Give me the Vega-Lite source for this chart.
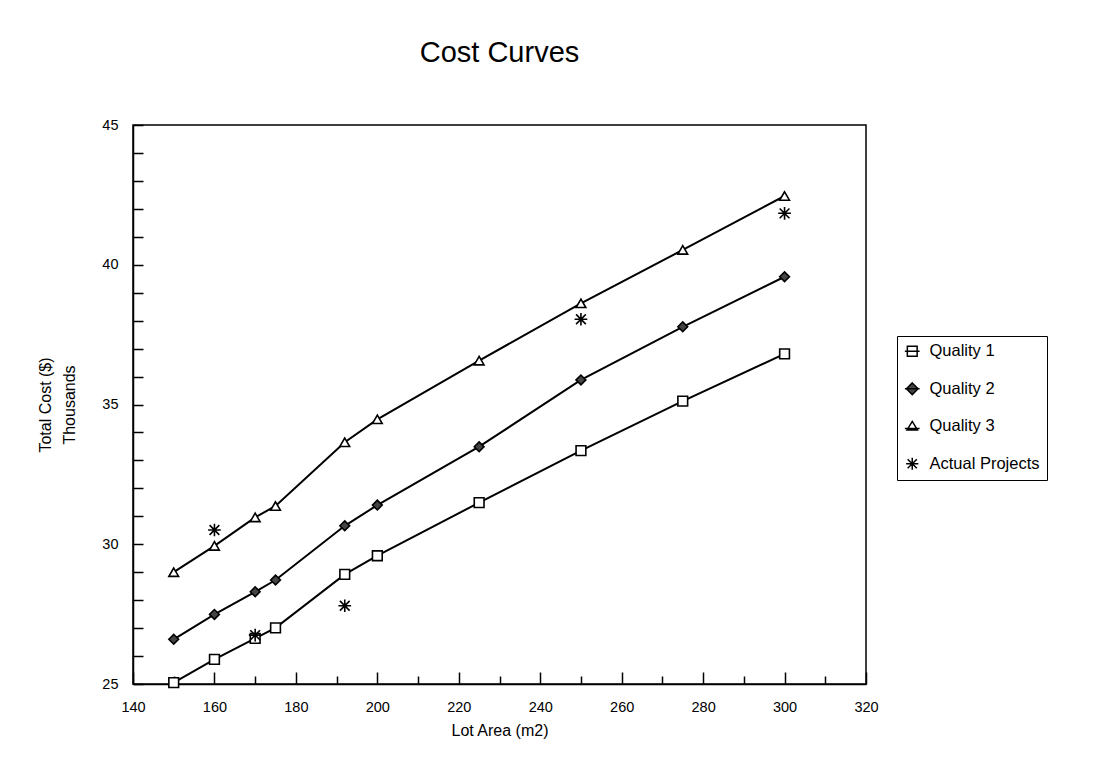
{
  "$schema": "https://vega.github.io/schema/vega-lite/v6.json",
  "autosize": {"type": "none"},
  "width": 733,
  "height": 559,
  "padding": {"left": 133, "top": 125, "right": 228, "bottom": 84},
  "background": "white",
  "config": {
    "font": "Liberation Sans",
    "view": {"stroke": "black", "strokeWidth": 1.5}
  },
  "title": {
    "text": "Cost Curves",
    "fontSize": 29,
    "fontWeight": "normal",
    "color": "black",
    "anchor": "middle",
    "baseline": "alphabetic",
    "offset": 26,
    "font": "Liberation Sans"
  },
  "data": {
    "values": [
      {"series": "Quality 1", "area": 150, "cost": 25.05},
      {"series": "Quality 1", "area": 160, "cost": 25.88},
      {"series": "Quality 1", "area": 170, "cost": 26.63},
      {"series": "Quality 1", "area": 175, "cost": 27.01},
      {"series": "Quality 1", "area": 192, "cost": 28.92},
      {"series": "Quality 1", "area": 200, "cost": 29.59},
      {"series": "Quality 1", "area": 225, "cost": 31.49},
      {"series": "Quality 1", "area": 250, "cost": 33.35},
      {"series": "Quality 1", "area": 275, "cost": 35.12},
      {"series": "Quality 1", "area": 300, "cost": 36.81},
      {"series": "Quality 2", "area": 150, "cost": 26.60},
      {"series": "Quality 2", "area": 160, "cost": 27.49},
      {"series": "Quality 2", "area": 170, "cost": 28.30},
      {"series": "Quality 2", "area": 175, "cost": 28.72},
      {"series": "Quality 2", "area": 192, "cost": 30.66},
      {"series": "Quality 2", "area": 200, "cost": 31.40},
      {"series": "Quality 2", "area": 225, "cost": 33.49},
      {"series": "Quality 2", "area": 250, "cost": 35.88},
      {"series": "Quality 2", "area": 275, "cost": 37.78},
      {"series": "Quality 2", "area": 300, "cost": 39.57},
      {"series": "Quality 3", "area": 150, "cost": 29.00},
      {"series": "Quality 3", "area": 160, "cost": 29.94},
      {"series": "Quality 3", "area": 170, "cost": 30.96},
      {"series": "Quality 3", "area": 175, "cost": 31.37},
      {"series": "Quality 3", "area": 192, "cost": 33.65},
      {"series": "Quality 3", "area": 200, "cost": 34.47},
      {"series": "Quality 3", "area": 225, "cost": 36.57},
      {"series": "Quality 3", "area": 250, "cost": 38.62},
      {"series": "Quality 3", "area": 275, "cost": 40.53},
      {"series": "Quality 3", "area": 300, "cost": 42.46},
      {"series": "Actual Projects", "area": 160, "cost": 30.51},
      {"series": "Actual Projects", "area": 170, "cost": 26.75},
      {"series": "Actual Projects", "area": 192, "cost": 27.80},
      {"series": "Actual Projects", "area": 250, "cost": 38.05},
      {"series": "Actual Projects", "area": 300, "cost": 41.84}
    ]
  },
  "encoding": {
    "x": {
      "field": "area",
      "type": "quantitative",
      "scale": {"domain": [140, 320], "nice": false, "zero": false},
      "axis": {
        "orient": "bottom",
        "title": "Lot Area (m2)",
        "values": [140, 160, 180, 200, 220, 240, 260, 280, 300, 320],
        "labelFlush": false,
        "labelOverlap": false,
        "grid": false,
        "tickSize": -12,
        "tickColor": "black",
        "tickWidth": 1.5,
        "domainColor": "black",
        "domainWidth": 1.5,
        "labelFontSize": 14.5,
        "labelColor": "black",
        "labelPadding": 28,
        "titleFontSize": 16,
        "titleFontWeight": "normal",
        "titleColor": "black",
        "titleY": 46,
        "titleBaseline": "middle"
      }
    },
    "y": {
      "field": "cost",
      "type": "quantitative",
      "scale": {"domain": [25, 45], "nice": false, "zero": false},
      "axis": {
        "title": ["Total Cost ($)", "Thousands"],
        "values": [25, 26, 27, 28, 29, 30, 31, 32, 33, 34, 35, 36, 37, 38, 39, 40, 41, 42, 43, 44, 45],
        "labelExpr": "datum.value % 5 === 0 ? datum.label : ''",
        "labelOverlap": false,
        "labelFlush": false,
        "grid": false,
        "tickSize": -10,
        "tickColor": "black",
        "tickWidth": 1.5,
        "domainColor": "black",
        "domainWidth": 1.5,
        "labelFontSize": 14.5,
        "labelColor": "black",
        "labelPadding": 25,
        "titleFontSize": 16,
        "titleFontWeight": "normal",
        "titleColor": "black",
        "titleAngle": -90,
        "titleAlign": "center",
        "titleBaseline": "middle",
        "titleLineHeight": 24,
        "titleX": -88,
        "titleY": 279.5
      }
    }
  },
  "layer": [
    {
      "transform": [{"filter": "datum.series !== 'Actual Projects'"}],
      "mark": {"type": "line", "color": "black", "strokeWidth": 2},
      "encoding": {"detail": {"field": "series"}}
    },
    {
      "mark": {"type": "point", "filled": true, "stroke": "black", "strokeWidth": 1.6, "opacity": 1, "size": 95, "clip": false},
      "encoding": {
        "x": {
          "field": "area",
          "type": "quantitative",
          "scale": {"domain": [140, 320], "nice": false, "zero": false},
          "axis": null
        },
        "shape": {
          "field": "series",
          "type": "nominal",
          "scale": {
            "domain": ["Quality 1", "Quality 2", "Quality 3", "Actual Projects"],
            "range": ["square", "diamond", "triangle-up", "M0,-1.3V1.3M-1.3,0H1.3M-1,-1L1,1M-1,1L1,-1"]
          },
          "legend": null
        },
        "fill": {
          "field": "series",
          "type": "nominal",
          "scale": {
            "domain": ["Quality 1", "Quality 2", "Quality 3", "Actual Projects"],
            "range": ["white", "#444444", "white", "black"]
          },
          "legend": null
        }
      }
    },
    {
      "transform": [{"filter": "datum.area < 0"}],
      "mark": {"type": "point", "filled": true, "stroke": "black", "strokeWidth": 1.6, "opacity": 1, "size": 150},
      "encoding": {
        "x": {
          "field": "area",
          "type": "quantitative",
          "scale": {"domain": [140, 320], "nice": false, "zero": false},
          "axis": {
            "orient": "bottom",
            "title": null,
            "values": [150, 170, 190, 210, 230, 250, 270, 290, 310],
            "labels": false,
            "domain": false,
            "grid": false,
            "tickSize": -8,
            "tickColor": "black",
            "tickWidth": 1.5
          }
        },
        "shape": {
          "field": "series",
          "type": "nominal",
          "scale": {
            "domain": ["Quality 1", "Quality 2", "Quality 3", "Actual Projects"],
            "range": ["M-1.2,0H1.2M-0.8,-0.8H0.8V0.8H-0.8Z", "M-1.2,0H1.2M0,-0.95L0.95,0L0,0.95L-0.95,0Z", "M-1.2,0.35H1.2M0,-0.8L0.85,0.6H-0.85Z", "M0,-1V1M-1,0H1M-0.75,-0.75L0.75,0.75M-0.75,0.75L0.75,-0.75"]
          },
          "legend": {
            "title": null,
            "orient": "none",
            "legendX": 764,
            "legendY": 211,
            "strokeColor": "black",
            "padding": 7,
            "rowPadding": 19.5,
            "labelFontSize": 16.5,
            "labelColor": "black",
            "labelOffset": 9,
            "symbolSize": 150,
            "values": ["Quality 1", "Quality 2", "Quality 3", "Actual Projects"],
            "encode": {
              "symbols": {
                "update": {
                  "stroke": {"value": "black"},
                  "strokeWidth": {"value": 1.6}
                }
              }
            }
          }
        },
        "fill": {
          "field": "series",
          "type": "nominal",
          "scale": {
            "domain": ["Quality 1", "Quality 2", "Quality 3", "Actual Projects"],
            "range": ["white", "#444444", "white", "black"]
          }
        }
      }
    }
  ],
  "resolve": {"scale": {"shape": "independent", "fill": "independent"}, "axis": {"x": "independent"}}
}
